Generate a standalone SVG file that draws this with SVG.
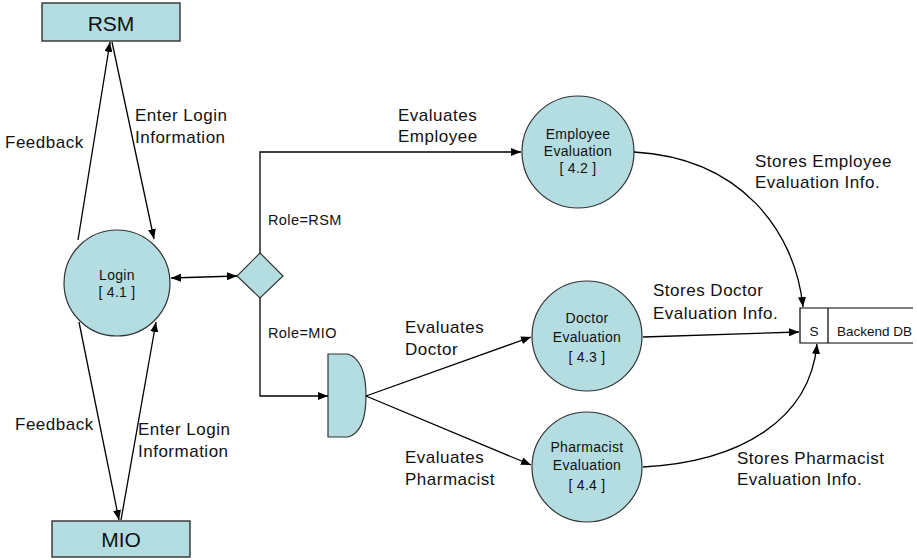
<svg xmlns="http://www.w3.org/2000/svg" width="917" height="560" viewBox="0 0 917 560">
  <defs>
    <marker id="arrow" viewBox="0 0 10 8" refX="10" refY="4" markerWidth="10" markerHeight="8" markerUnits="userSpaceOnUse" orient="auto-start-reverse">
      <path d="M0,0 L10,4 L0,8 Z" fill="#000"/>
    </marker>
    <style>
      .ext { fill: #b4dde1; stroke: #222; stroke-width: 1.3; }
      .proc { fill: #b4dde1; stroke: #333; stroke-width: 1.2; }
      .flow { fill: none; stroke: #000; stroke-width: 1.3; marker-end: url(#arrow); }
      .store { fill: none; stroke: #000; stroke-width: 1.2; }
      text { font-family: "Liberation Sans", Arial, sans-serif; fill: #111; }
      .big { font-size: 21px; text-anchor: middle; }
      .lbl { font-size: 17px; letter-spacing: 0.5px; }
      .in { font-size: 14px; text-anchor: middle; letter-spacing: 0.3px; }
      .role { font-size: 14.5px; letter-spacing: 0.4px; }
      .db { font-size: 13.5px; }
    </style>
  </defs>
  <rect width="917" height="560" fill="#fff"/>

  <!-- external entities -->
  <g id="rsm">
    <rect class="ext" x="42" y="3" width="138" height="38"/>
    <text class="big" x="111" y="31">RSM</text>
  </g>
  <g id="mio">
    <rect class="ext" x="52" y="521" width="138" height="36"/>
    <text class="big" x="121" y="547">MIO</text>
  </g>

  <!-- processes -->
  <g id="login">
    <circle class="proc" cx="117" cy="283" r="53"/>
    <text class="in" x="117" y="280">Login</text>
    <text class="in" x="117" y="297">[ 4.1 ]</text>
  </g>
  <g id="employee-eval">
    <circle class="proc" cx="578" cy="152" r="56"/>
    <text class="in" x="578" y="139">Employee</text>
    <text class="in" x="578" y="156">Evaluation</text>
    <text class="in" x="578" y="173">[ 4.2 ]</text>
  </g>
  <g id="doctor-eval">
    <circle class="proc" cx="587" cy="336" r="55"/>
    <text class="in" x="587" y="323">Doctor</text>
    <text class="in" x="587" y="342">Evaluation</text>
    <text class="in" x="587" y="362">[ 4.3 ]</text>
  </g>
  <g id="pharmacist-eval">
    <circle class="proc" cx="587" cy="467" r="55"/>
    <text class="in" x="587" y="452">Pharmacist</text>
    <text class="in" x="587" y="470">Evaluation</text>
    <text class="in" x="587" y="490">[ 4.4 ]</text>
  </g>

  <!-- role decision and split -->
  <g id="decision">
    <polygon class="proc" points="260,253 283,276 260,298 237,276"/>
  </g>
  <g id="split">
    <path class="proc" d="M328,354 H348 Q366,360 366,396 Q366,432 348,437 H328 Z"/>
  </g>

  <!-- data store -->
  <g id="backend-db">
    <path class="store" d="M913,308 H800 V343 H913 M828,308 V343"/>
    <text class="db" x="814" y="336" text-anchor="middle" font-size="12">S</text>
    <text class="db" x="837" y="336">Backend DB</text>
  </g>

  <!-- data flows -->
  <g id="connectors">
    <line class="flow" x1="78" y1="240" x2="110" y2="42"/>
    <line class="flow" x1="112" y1="42" x2="154" y2="239"/>
    <line class="flow" x1="79" y1="322" x2="119" y2="520"/>
    <line class="flow" x1="121" y1="520" x2="156" y2="322"/>
    <line class="flow" x1="171" y1="278" x2="237" y2="276" marker-start="url(#arrow)"/>
    <path class="flow" d="M260,253 V152 H521"/>
    <path class="flow" d="M260,298 V396 H328"/>
    <line class="flow" x1="366" y1="396" x2="531" y2="337"/>
    <line class="flow" x1="366" y1="396" x2="531" y2="465"/>
    <path class="flow" d="M634,152 C740,158 795,230 803,307"/>
    <line class="flow" x1="643" y1="337" x2="799" y2="332"/>
    <path class="flow" d="M643,467 C740,462 810,420 817,344"/>
  </g>

  <!-- flow labels -->
  <g id="labels">
    <text class="lbl" x="5" y="148">Feedback</text>
    <text class="lbl" x="135" y="121">Enter Login</text>
    <text class="lbl" x="135" y="143">Information</text>
    <text class="lbl" x="15" y="430">Feedback</text>
    <text class="lbl" x="138" y="435">Enter Login</text>
    <text class="lbl" x="138" y="457">Information</text>
    <text class="role" x="268" y="225">Role=RSM</text>
    <text class="role" x="268" y="338">Role=MIO</text>
    <text class="lbl" x="398" y="121">Evaluates</text>
    <text class="lbl" x="398" y="142">Employee</text>
    <text class="lbl" x="405" y="333">Evaluates</text>
    <text class="lbl" x="405" y="355">Doctor</text>
    <text class="lbl" x="405" y="463">Evaluates</text>
    <text class="lbl" x="405" y="485">Pharmacist</text>
    <text class="lbl" x="755" y="167">Stores Employee</text>
    <text class="lbl" x="755" y="188">Evaluation Info.</text>
    <text class="lbl" x="653" y="296">Stores Doctor</text>
    <text class="lbl" x="653" y="319">Evaluation Info.</text>
    <text class="lbl" x="737" y="464">Stores Pharmacist</text>
    <text class="lbl" x="737" y="485">Evaluation Info.</text>
  </g>
</svg>
